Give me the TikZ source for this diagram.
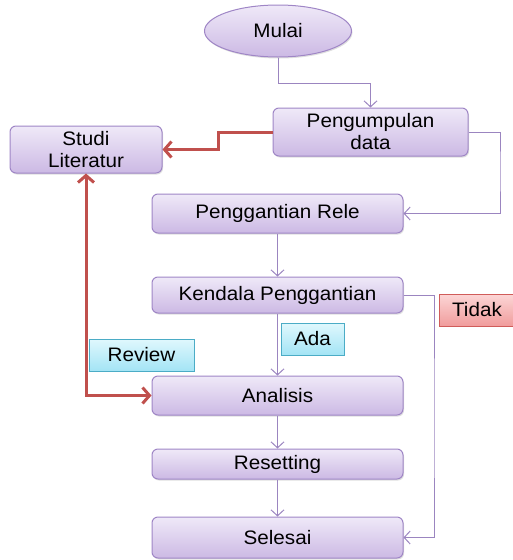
\documentclass[tikz,border=0pt]{standalone}
\usepackage{fontspec}
\setmainfont{Liberation Sans}[FakeStretch=1.06]
\usetikzlibrary{arrows.meta,shapes.geometric,shadows}
\definecolor{boxtop}{HTML}{EFE9F8}
\definecolor{boxbot}{HTML}{CCB9E4}
\definecolor{boxdraw}{HTML}{9F86C6}
\definecolor{flowc}{HTML}{9B85C0}
\definecolor{redc}{HTML}{C0504D}
\definecolor{cyantop}{HTML}{E0F8FD}
\definecolor{cyanbot}{HTML}{A3E4F5}
\definecolor{cyandraw}{HTML}{4BACC6}
\definecolor{pinktop}{HTML}{FCD6D6}
\definecolor{pinkbot}{HTML}{F09C9C}
\definecolor{pinkdraw}{HTML}{D05C5A}
\tikzset{
  base/.style={font=\fontsize{19.5}{22}\selectfont, inner sep=0pt, align=center},
  procbox/.style={base, draw=boxdraw, line width=1pt, rounded corners=6pt,
    top color=boxtop, bottom color=boxbot,
    drop shadow={shadow xshift=1pt, shadow yshift=-1.5pt, opacity=0.25}},
  startnode/.style={base, ellipse, draw=boxdraw, line width=1pt,
    top color=boxtop, bottom color=boxbot,
    drop shadow={shadow xshift=1pt, shadow yshift=-1.5pt, opacity=0.25}},
  cyanlabel/.style={base, draw=cyandraw, line width=1pt,
    top color=cyantop, bottom color=cyanbot},
  pinklabel/.style={base, draw=pinkdraw, line width=1pt,
    top color=pinktop, bottom color=pinkbot},
  flow/.style={draw=flowc, line width=1pt, -{Straight Barb[length=6pt,width=13pt]}},
  redflow/.style={draw=redc, line width=3pt, -{Straight Barb[length=7pt,width=16pt]}},
}
\begin{document}
\begin{tikzpicture}[x=1pt,y=1pt]
\useasboundingbox (0,0) rectangle (513,-560);
\node[startnode, minimum width=147pt, minimum height=52pt] (mulai) at (278,-31) {Mulai};
\node[procbox, minimum width=195pt, minimum height=48pt] (peng) at (370.5,-132) {Pengumpulan\\data};
\node[procbox, minimum width=152pt, minimum height=47pt] (studi) at (86,-149.5) {Studi\\Literatur};
\node[procbox, minimum width=251pt, minimum height=39pt] (rele) at (277.5,-213.5) {Penggantian Rele};
\node[procbox, minimum width=251pt, minimum height=36pt] (kendala) at (277.5,-295) {Kendala Penggantian};
\node[procbox, minimum width=251pt, minimum height=39pt] (analisis) at (277.5,-395.5) {Analisis};
\node[procbox, minimum width=251pt, minimum height=30pt] (resetting) at (277.5,-464) {Resetting};
\node[procbox, minimum width=251pt, minimum height=41pt] (selesai) at (277.5,-537.5) {Selesai};

\coordinate (c1) at (370.5,-83);
\coordinate (r1) at (218,-132);
\coordinate (r2) at (218,-149.5);
\coordinate (c2) at (500,-170);
\coordinate (c3) at (434,-420);

\draw[flow] (mulai.south) |- (c1) -- (peng.north);
\draw[redflow] (peng.west) -- (r1) -- (r2) -- (studi.east);
\draw[flow] (peng.east) -| (c2) |- (rele.east);
\draw[flow] (rele.south) -- (kendala.north);
\draw[flow] (kendala.south) -- (analisis.north);
\draw[flow] (kendala.east) -| (c3) |- (selesai.east);
\draw[flow] (analisis.south) -- (resetting.north);
\draw[flow] (resetting.south) -- (selesai.north);
\draw[redflow, {Straight Barb[length=7pt,width=16pt]}-{Straight Barb[length=7pt,width=16pt]}] (studi.south) |- (analisis.west);

\node[pinklabel, minimum width=76pt, minimum height=32pt] (tidak) at (477,-310) {Tidak};
\node[cyanlabel, minimum width=63pt, minimum height=32pt] (ada) at (312.5,-339) {Ada};
\node[cyanlabel, minimum width=105pt, minimum height=32pt] (review) at (141.5,-355) {Review};
\end{tikzpicture}
\end{document}
